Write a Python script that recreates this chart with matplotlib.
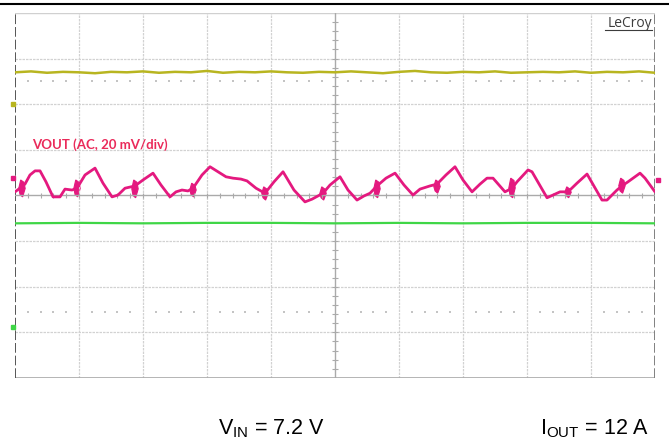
import matplotlib
matplotlib.use("Agg")
import matplotlib.pyplot as plt
import numpy as np
from matplotlib.lines import Line2D

plt.rcParams['font.family'] = ['Liberation Sans', 'DejaVu Sans']
plt.rcParams['mathtext.fontset'] = 'custom'
plt.rcParams['mathtext.rm'] = 'Liberation Sans'

# scope screen: 10 x 8 divisions, all values in divisions
# VOUT (AC coupled) trace
vout_x = [0.000, 0.078, 0.156, 0.234, 0.313, 0.391, 0.484, 0.594, 0.703, 0.781,
          0.891, 0.969, 1.094, 1.250, 1.375, 1.516, 1.609, 1.719, 1.813, 1.875,
          2.000, 2.156, 2.281, 2.422, 2.516, 2.609, 2.703, 2.781, 2.922, 3.047,
          3.172, 3.297, 3.406, 3.531, 3.625, 3.766, 3.906, 4.047, 4.188, 4.359,
          4.531, 4.641, 4.734, 4.813, 4.922, 5.078, 5.203, 5.344, 5.453, 5.547,
          5.656, 5.797, 5.938, 6.078, 6.219, 6.328, 6.484, 6.594, 6.734, 6.875,
          7.000, 7.141, 7.266, 7.375, 7.469, 7.656, 7.766, 7.844, 8.016, 8.078,
          8.313, 8.516, 8.641, 8.781, 8.938, 9.172, 9.250, 9.406, 9.484, 9.578,
          9.766, 9.844, 10.000]
vout_y = [0.08, 0.16, 0.25, 0.45, 0.54, 0.54, 0.30, -0.03, -0.03, 0.14,
          0.12, 0.16, 0.45, 0.60, 0.27, -0.03, 0.01, 0.16, 0.19, 0.21,
          0.34, 0.49, 0.23, -0.03, 0.08, 0.12, 0.10, 0.16, 0.45, 0.63,
          0.52, 0.41, 0.38, 0.36, 0.32, 0.16, 0.05, 0.30, 0.52, 0.12,
          -0.14, -0.08, -0.01, 0.05, 0.23, 0.41, 0.12, -0.10, -0.01, 0.05,
          0.21, 0.38, 0.49, 0.23, 0.01, 0.14, 0.21, 0.25, 0.45, 0.63,
          0.34, 0.08, 0.25, 0.38, 0.38, 0.08, 0.16, 0.30, 0.56, 0.52,
          -0.05, 0.08, 0.08, 0.27, 0.47, -0.10, -0.10, 0.12, 0.21, 0.30,
          0.49, 0.38, 0.08]

# switching noise bursts on VOUT: position, low, high
burst_x = [0.109, 0.969, 1.875, 2.781, 3.906, 4.813, 5.656, 6.594, 7.766, 8.641, 9.484]
burst_lo = [-0.03, -0.03, -0.05, -0.03, -0.10, -0.10, -0.05, 0.05, -0.05, -0.05, 0.05]
burst_hi = [0.34, 0.34, 0.34, 0.27, 0.19, 0.19, 0.34, 0.34, 0.38, 0.19, 0.38]

# VIN trace (flat with small noise)
vin_x = list(np.linspace(0, 10, 41))
vin_y = [2.70, 2.72, 2.69, 2.71, 2.70, 2.68, 2.71, 2.70, 2.72, 2.69,
         2.71, 2.70, 2.73, 2.69, 2.71, 2.70, 2.72, 2.70, 2.69, 2.71,
         2.70, 2.72, 2.70, 2.68, 2.71, 2.73, 2.70, 2.69, 2.71, 2.70,
         2.72, 2.69, 2.70, 2.71, 2.70, 2.72, 2.69, 2.71, 2.70, 2.72, 2.69]
# green trace
green_x = [0.0, 1.0, 2.0, 3.0, 4.0, 5.0, 6.0, 7.0, 8.0, 9.0, 10.0]
green_y = [-0.61, -0.60, -0.61, -0.60, -0.60, -0.61, -0.60, -0.61, -0.60, -0.60, -0.61]

dot_rows = [2.5, -2.55]

c_yellow = '#b8b520'
c_vout = '#e4197f'
c_green = '#3fd646'
marker_cols = [c_yellow, c_vout, c_green]
marker_y = [2.0, 0.38, -2.88]

fig = plt.figure(figsize=(6.69, 4.44), dpi=100)
ax = fig.add_axes([15 / 669, 1 - 378 / 444, 640 / 669, 365 / 444])
ax.set_xlim(0, 10)
ax.set_ylim(-4, 4)
ax.axis('off')

# grid
for gx in [1, 2, 3, 4, 6, 7, 8, 9]:
    ax.axvline(gx, color='#d2d2d2', lw=0.9, ls=(0, (2, 0.8)))
for gy in [-3, -2, -1, 1, 2, 3]:
    ax.axhline(gy, color='#d2d2d2', lw=0.9, ls=(0, (2, 0.8)))
ax.axhline(4, color='#d0d0d0', lw=1)
ax.axhline(-4, color='#a8a8a8', lw=1.2)
ax.axvline(0, color='#555555', lw=1.4, ls=(0, (5, 1.5)))
ax.axvline(10, color='#808080', lw=1.4, ls=(0, (5, 1.5)))

# centre axes with minor ticks
ax.axvline(5, color='#aaaaaa', lw=1)
ax.axhline(0, color='#aaaaaa', lw=1)
minor_x = np.arange(0.2, 10, 0.2)
minor_y = np.arange(-3.8, 4, 0.2)
ax.vlines(minor_x, -0.06, 0.06, color='#aaaaaa', lw=0.8)
ax.hlines(minor_y, 4.95, 5.05, color='#aaaaaa', lw=0.8)

# dotted reference rows
dots = [v for v in minor_x if abs(v - round(v)) > 0.05]
for r in dot_rows:
    ax.scatter(dots, [r] * len(dots), s=1.2, color='#c4c4c4', marker='s', lw=0)

# traces
ax.plot(vin_x, vin_y, color=c_yellow, lw=1.8, solid_joinstyle='round')
ax.plot(green_x, green_y, color=c_green, lw=1.6)
ax.plot(vout_x, vout_y, color=c_vout, lw=2.0, solid_joinstyle='round',
        solid_capstyle='round')
for bx, lo, hi in zip(burst_x, burst_lo, burst_hi):
    mid = (lo + hi) / 2
    ax.fill([bx - 0.05, bx - 0.02, bx + 0.03, bx + 0.05, bx + 0.01, bx - 0.03],
            [mid, hi, hi - 0.05, mid, lo, lo + 0.05],
            color=c_vout, lw=0.8)

# channel markers on the screen edges
for col, my in zip(marker_cols, marker_y):
    ax.plot([-0.03], [my], marker='s', ms=2.5, color=col, clip_on=False)
ax.plot([10.05], [0.34], marker='s', ms=2.5, color=c_vout, clip_on=False)

ax.text(0.27, 1.11, 'VOUT (AC, 20 mV/div)', color='#ea2a5a',
        fontsize=9.5, fontweight='bold', family=['Lato', 'DejaVu Sans'],
        va='center', ha='left')
ax.text(9.95, 3.78, 'LeCroy', color='#3c3c3c', fontsize=10,
        ha='right', va='center', family=['Open Sans', 'DejaVu Sans'])
ax.plot([9.22, 9.95], [3.62, 3.62], color='#3c3c3c', lw=0.8)

# top rule
fig.add_artist(Line2D([0, 1], [1 - 4 / 444, 1 - 4 / 444], color='black', lw=1.5))

fig.text(218 / 669, 1 - 434 / 444, r'$\mathrm{V_{IN}}$ = 7.2 V', fontsize=15.5,
         ha='left', va='baseline')
fig.text(540 / 669, 1 - 434 / 444, r'$\mathrm{I_{OUT}}$ = 12 A', fontsize=15.5,
         ha='left', va='baseline')

fig.savefig('out.png', dpi=100)
